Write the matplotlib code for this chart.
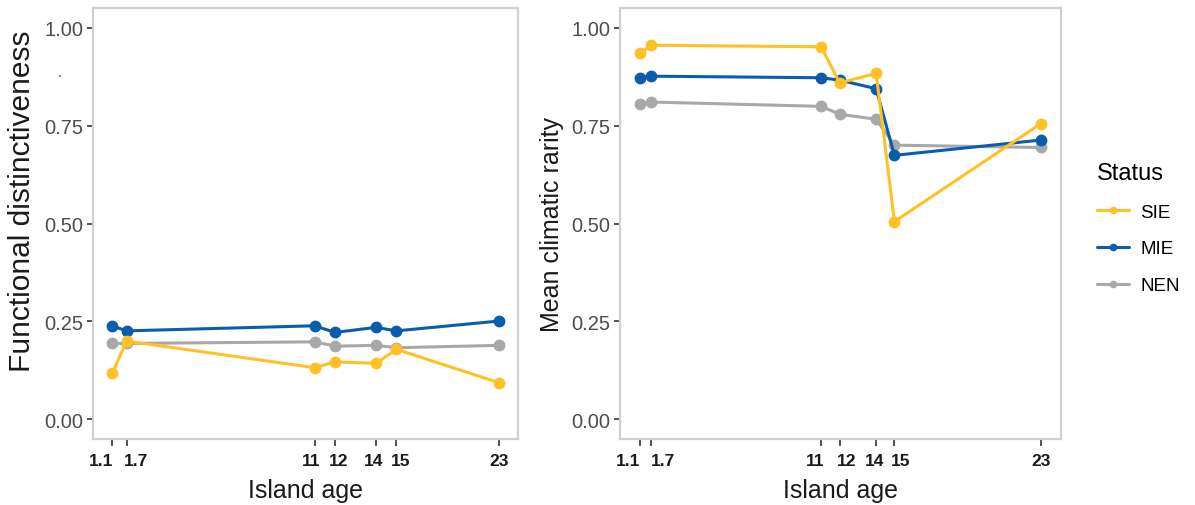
import numpy as np
import matplotlib
matplotlib.use("Agg")
from matplotlib import pyplot as plt
from matplotlib.transforms import ScaledTranslation

## island ages (tick labels) and where each island sits on the x axis
age_labels = ["1.1", "1.7", "11", "12", "14", "15", "23"]
age_fd = [1.1, 1.8, 11, 12, 14, 15, 20]      # functional distinctiveness panel
age_cr = [1.1, 1.7, 11, 12, 14, 15, 23]      # climatic rarity panel

status = ["SIE", "MIE", "NEN"]
colors = {"SIE": "#FFC125", "MIE": "#0A5DAE", "NEN": "#A8A8A8"}

## functional distinctiveness per island
fd_sie = [0.118, 0.200, 0.132, 0.147, 0.143, 0.179, 0.094]
fd_mie = [0.239, 0.226, 0.239, 0.222, 0.235, 0.226, 0.251]
fd_nen = [0.194, 0.194, 0.198, 0.187, 0.189, 0.183, 0.189]

## mean climatic rarity per island
cr_sie = [0.934, 0.955, 0.951, 0.859, 0.883, 0.505, 0.755]
cr_mie = [0.872, 0.876, 0.872, 0.866, 0.844, 0.674, 0.713]
cr_nen = [0.804, 0.810, 0.799, 0.779, 0.766, 0.700, 0.694]

plt.rcParams['font.family'] = ['Liberation Sans', 'DejaVu Sans']

fig = plt.figure(figsize=(11.95, 5.06), dpi=100)
ax1 = fig.add_axes([0.0778, 0.1304, 0.3556, 0.8518])
ax2 = fig.add_axes([0.5188, 0.1304, 0.3690, 0.8518])


def draw_panel(ax, x, series, ylabel, ysize, nudges):
    # grey first so the endemics sit on top
    for name in ["NEN", "MIE", "SIE"]:
        ax.plot(x, series[name], color=colors[name], lw=2.2, marker='o',
                ms=7.5, label=name, solid_capstyle='round')
    pad = 0.05 * (max(x) - min(x))
    ax.set_xlim(min(x) - pad, max(x) + pad)
    ax.set_ylim(-0.05, 1.05)
    ax.set_xticks(x)
    ax.set_xticklabels(age_labels)
    ax.set_yticks([0, 0.25, 0.5, 0.75, 1.0])
    ax.set_yticklabels(["0.00", "0.25", "0.50", "0.75", "1.00"])
    ax.tick_params(axis='y', labelsize=14.5, colors='#333333', labelcolor='#4D4D4D',
                   length=4, width=1.2, pad=3)
    ax.tick_params(axis='x', labelsize=12.5, colors='#333333', labelcolor='#1A1A1A',
                   length=5, width=1.2, pad=5)
    # crowded ages: push neighbouring labels apart
    for lab, dx in zip(ax.get_xticklabels(), nudges):
        lab.set_fontweight('bold')
        lab.set_transform(lab.get_transform() +
                          ScaledTranslation(dx / 100, 0, fig.dpi_scale_trans))
    for sp in ax.spines.values():
        sp.set_color('#D0D0D0')
        sp.set_linewidth(1.6)
    ax.set_xlabel("Island age", fontsize=18, color='#1A1A1A', labelpad=7)
    ax.set_ylabel(ylabel, fontsize=ysize, color='#1A1A1A', labelpad=5)


draw_panel(ax1, age_fd, {"SIE": fd_sie, "MIE": fd_mie, "NEN": fd_nen},
           "Functional distinctiveness", 21.5, [-11, 9, -4, 4, -2, 4, 0])
draw_panel(ax2, age_cr, {"SIE": cr_sie, "MIE": cr_mie, "NEN": cr_nen},
           "Mean climatic rarity", 18, [-12, 12, -6, 7, -2, 6, 0])
ax1.yaxis.set_label_coords(-0.133, 0.555)

## stray mark next to the left y title
fig.text(60 / 1195, 1 - 73 / 506, ".", fontsize=10, color='#333333',
         ha='center', va='center')

handles, labels = ax2.get_legend_handles_labels()
order = [labels.index(s) for s in status]
leg = fig.legend([handles[i] for i in order], status, title="Status",
                 loc='upper left', bbox_to_anchor=(1080 / 1195, 1 - 146 / 506),
                 frameon=False, fontsize=13.5, title_fontsize=17,
                 handlelength=1.7, handletextpad=0.6, labelspacing=1.05,
                 markerscale=0.6)
leg._legend_box.align = "left"

fig.savefig("out.png", dpi=100)
